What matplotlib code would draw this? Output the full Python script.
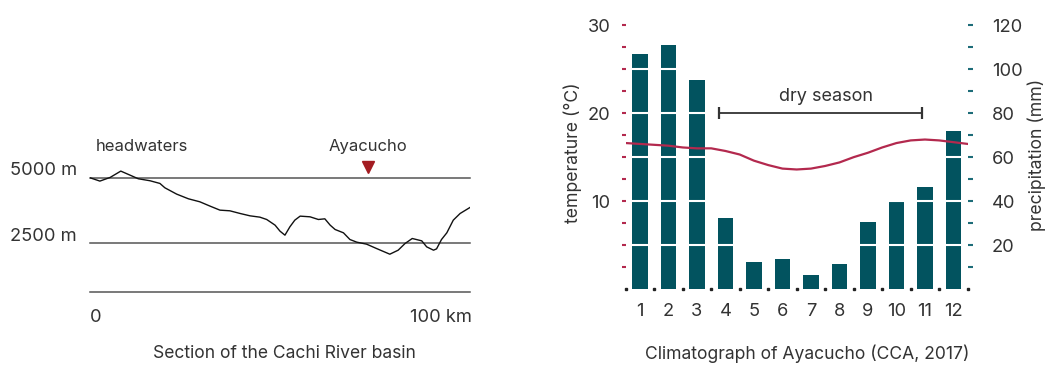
import matplotlib
matplotlib.use("Agg")
import matplotlib.pyplot as plt
import numpy as np

plt.rcParams['font.family'] = ['Inter', 'DejaVu Sans']
plt.rcParams['font.size'] = 12

# --- river profile (km, m) ---
profile_km = [0, 2.6, 5.3, 8.1, 10.5, 12.7, 15.8, 18.4, 19.7, 22.8, 25.9, 28.9,
              31.6, 34.2, 36.8, 39.5, 42.1, 44.7, 46.5, 48.7, 50.0, 51.3, 52.6,
              53.9, 55.3, 57.9, 60.1, 61.8, 63.2, 64.5, 66.7, 68.4, 70.2, 72.8,
              75.4, 78.9, 81.1, 82.9, 84.8, 87.3, 88.6, 90.4, 91.2, 92.5, 93.9,
              95.6, 97.4, 100]
profile_m = [5000, 4872, 5013, 5256, 5103, 4962, 4885, 4782, 4615, 4372, 4192,
             4077, 3910, 3756, 3731, 3628, 3538, 3487, 3397, 3180, 2949, 2795,
             3115, 3372, 3526, 3500, 3397, 3423, 3180, 3013, 2885, 2628, 2526,
             2449, 2282, 2064, 2218, 2474, 2667, 2577, 2346, 2218, 2269, 2628,
             2885, 3372, 3628, 3859]
ref_levels = [5000, 2500]
base_level = 600
ayacucho_km = 73.2

# --- climatograph ---
months = list(range(1, 13))
precip_mm = [106.8, 110.9, 95.0, 32.4, 12.3, 13.8, 6.4, 11.4, 30.6, 40.0, 46.4, 71.8]
temp_x = [0.5, 1, 1.5, 2, 2.5, 3, 3.5, 4, 4.5, 5, 5.5, 6, 6.5, 7, 7.5, 8, 8.5,
          9, 9.5, 10, 10.5, 11, 11.5, 12, 12.5]
temp_c = [16.6, 16.5, 16.4, 16.3, 16.1, 16.0, 16.0, 15.7, 15.3, 14.6, 14.1, 13.7,
          13.6, 13.7, 14.0, 14.4, 15.0, 15.5, 16.1, 16.6, 16.9, 17.0, 16.9, 16.7, 16.5]
dry_season = (3.77, 10.89)

TXT = '#333333'
BAR = '#02535f'
RED = '#b3294e'
TEAL = '#1d6c78'
W, H = 1056, 373
NUM = 13.2

fig = plt.figure(figsize=(W / 100, H / 100), dpi=100)

# left: profile
axl = fig.add_axes([90 / W, 1 - 292.3 / H, 380 / W, (292.3 - 130) / H])
axl.set_xlim(0, 100)
axl.set_ylim(base_level, 6835)
axl.axis('off')
for lv in ref_levels + [base_level]:
    axl.axhline(lv, color='#555555', lw=1.1, clip_on=False)
axl.plot(profile_km, profile_m, color='#111111', lw=1.0)
axl.plot([ayacucho_km], [5423], marker='v', color='#a31c22', markersize=8.5, clip_on=False)
axl.text(ayacucho_km, 6192, 'Ayacucho', ha='center', va='center', color=TXT)
axl.text(1.6, 6192, 'headwaters', ha='left', va='center', color=TXT)
for lv in ref_levels:
    axl.text(-21.05, lv + 260, f'{lv} m', ha='left', va='center', color=TXT, fontsize=NUM)
axl.text(1.5, -369, '0', ha='center', va='center', color=TXT, fontsize=NUM)
axl.text(100.4, -369, '100 km', ha='right', va='center', color=TXT, fontsize=NUM)
fig.text(284.7 / W, 1 - 353.3 / H, 'Section of the Cachi River basin',
         ha='center', va='center', color=TXT, fontsize=12.6)

# right: climatograph
axp = fig.add_axes([625.7 / W, 1 - 289.3 / H, 342 / W, 264.3 / H])
axt = axp.twinx()
axp.set_xlim(0.5, 12.5)
axp.set_ylim(0, 120)
axp.bar(months, precip_mm, width=0.53, color=BAR, zorder=2)
for g in range(20, 101, 20):
    axp.axhline(g, color='white', lw=1.5, zorder=3)
for s in axp.spines.values():
    s.set_visible(False)
axp.plot(np.arange(0.5, 13, 1), np.zeros(13), 's', color='#222222',
         markersize=1.6, clip_on=False, zorder=4)
axp.set_xticks(months)
axp.set_xticklabels([str(m) for m in months], fontsize=NUM)
axp.tick_params(axis='x', length=0, pad=10, labelcolor=TXT)
axp.yaxis.tick_right()
pt = np.arange(10, 121, 10)
axp.set_yticks(pt)
axp.set_yticklabels([str(v) if v % 20 == 0 else '' for v in pt], fontsize=NUM)
axp.tick_params(axis='y', colors=TEAL, length=3.5, width=1.5, pad=14, labelcolor=TXT)
for lab in axp.get_yticklabels():
    lab.set_horizontalalignment('left')

axt.set_ylim(0, 30)
for s in axt.spines.values():
    s.set_visible(False)
axt.plot(temp_x, temp_c, color=RED, lw=1.6, zorder=5)
tt = np.arange(2.5, 30.1, 2.5)
axt.yaxis.tick_left()
axt.set_yticks(tt)
axt.set_yticklabels([str(int(v)) if v % 10 == 0 else '' for v in tt], fontsize=NUM)
axt.tick_params(axis='y', colors=RED, length=3, width=1.5, pad=8, labelcolor=TXT)
axt.plot(dry_season, [20, 20], color='#333333', lw=1.3)
axt.plot(dry_season, [20, 20], linestyle='none', marker='|', markersize=8,
         markeredgewidth=1.6, color='#333333')
axt.text(7.53, 21.86, 'dry season', ha='center', va='center', color=TXT, fontsize=13)

fig.text(573 / W, 1 - 153 / H, 'temperature (°C)', rotation=90,
         ha='center', va='center', color=TXT, fontsize=12.7)
fig.text(1037 / W, 1 - 155 / H, 'precipitation (mm)', rotation=90,
         ha='center', va='center', color=TXT, fontsize=12.7)
fig.text(806.7 / W, 1 - 353.3 / H, 'Climatograph of Ayacucho (CCA, 2017)',
         ha='center', va='center', color=TXT, fontsize=12.6)

fig.savefig('out.png', dpi=100)
